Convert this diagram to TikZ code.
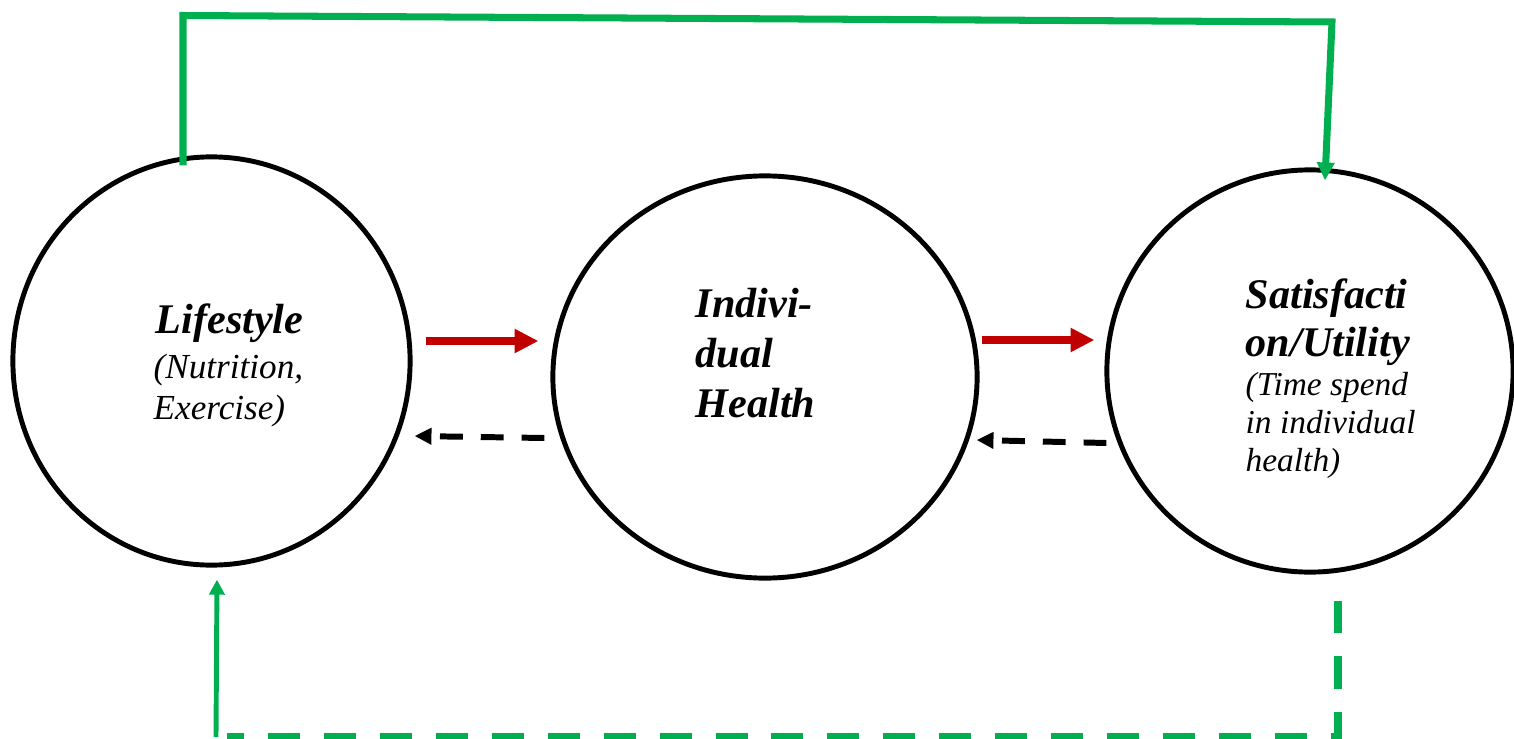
\documentclass[tikz,border=0pt]{standalone}
\usepackage{fontspec}
\setmainfont{Liberation Serif}
\usepackage{xcolor}
\usetikzlibrary{arrows.meta}
\usetikzlibrary{shapes}
\usetikzlibrary{calc}
\definecolor{causered}{HTML}{C00000}
\definecolor{loopgreen}{HTML}{00B050}

\begin{document}
\begin{tikzpicture}[x=0.01cm,y=-0.01cm,
        stage/.style={ellipse,draw=black,line width=1.4pt,inner sep=0pt},
        title text/.style={font=\fontsize{12}{14.2}\selectfont\bfseries\itshape,align=left,inner sep=0pt,anchor=north west},
        note text/.style={font=\fontsize{10}{11.7}\selectfont\itshape,align=left,inner sep=0pt,anchor=north west},
        cause/.style={draw=causered,line width=2pt,-{Triangle[length=6.8pt,width=6.5pt]}},
        feedback/.style={draw=black,line width=1.7pt,dash pattern=on 6.5pt off 5.1pt,-{Triangle[length=4.8pt,width=4.5pt]}},
        loop/.style={draw=loopgreen,line width=2pt}]
        \useasboundingbox (0,0) rectangle (1514,739);
        % the three stages
        \node[stage,minimum width=3.97cm,minimum height=4.08cm] (life) at (211.5,361) {};
        \node[stage,minimum width=4.24cm,minimum height=4.02cm] (health) at (765,377) {};
        \node[stage,minimum width=4.06cm,minimum height=4.02cm] (sat) at (1310,371) {};
        % texts
        \node[title text] (life-title) at (155,303.5) {Lifestyle};
        \node[note text] (life-note) at (153,353) {(Nutrition,\\Exercise)};
        \node[title text] (health-title) at (695,287.5) {Indivi-\\dual\\Health};
        \node[title text,font=\fontsize{12}{13.8}\selectfont\bfseries\itshape] (sat-title) at (1245,278) {Satisfacti\\on/Utility};
        \node[note text,font=\fontsize{9.5}{10.8}\selectfont\itshape] (sat-note) at (1245,372) {(Time spend\\in individual\\health)};
        % forward and backward links
        \draw[cause] ([shift={(13,-20)}]life.east) -- ([shift={(-12,-36)}]health.west);
        \draw[cause] ([shift={(2,-37)}]health.east) -- ([shift={(-10,-31)}]sat.west);
        \draw[feedback] ([shift={(-6,61)}]health.west) -- ([shift={(2,75)}]life.east);
        \draw[feedback] ([shift={(2,72)}]sat.west) -- ([shift={(-3,63)}]health.east);
        % green loops
        \coordinate (top-left) at (183,15.5);
        \coordinate (top-right) at (1332,22);
        \draw[loop,-{Triangle[length=5.1pt,width=4.8pt]}] ([shift={(-28.5,11)}]life.north) -- (top-left) -- (top-right) -- ([shift={(15,13)}]sat.north);
        \coordinate (bottom-right) at (1338,737);
        \coordinate (bottom-left) at (227,737);
        \coordinate (bottom-corner) at (216,737);
        \draw[loop,line width=2.3pt,dash pattern=on 9.1pt off 6.8pt] ([shift={(28,26)}]sat.south) -- (bottom-right) -- (bottom-left);
        \draw[loop,line width=1.4pt,-{Triangle[length=4.3pt,width=4.3pt]}] (bottom-corner) -- ([shift={(5.5,12)}]life.south);
\end{tikzpicture}
\end{document}
